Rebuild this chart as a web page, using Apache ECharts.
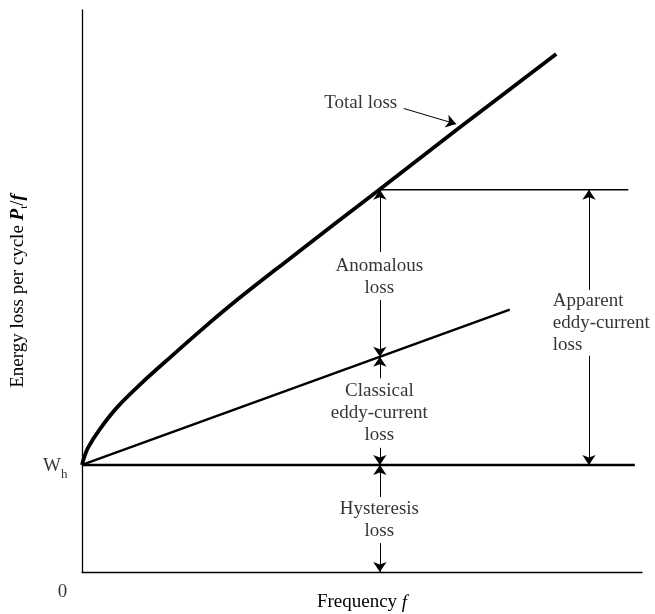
<!DOCTYPE html>
<html><head><meta charset="utf-8">
<script src="https://cdn.jsdelivr.net/npm/echarts@6/dist/echarts.min.js"></script>
<style>html,body{margin:0;padding:0;background:#fff}#c{width:655px;height:614px}</style>
</head><body><div id="c"></div>
<script>
// ---- data (schematic values) ----
const Wh = 2;
const totalX = [0, 0.03, 0.1, 0.3, 0.6, 1.0, 1.5, 2.0, 2.6, 3.4, 4.2, 5.0, 6.3, 7.96];
const totalY = [2, 2.12, 2.32, 2.67, 3.09, 3.53, 4.03, 4.52, 5.08, 5.78, 6.47, 7.15, 8.27, 9.68];
const classicalX = [0, 7.18];
const classicalY = [2, 4.9];
const hystX = [0, 9.28];
const hystY = [Wh, Wh];
const refX = [5, 9.17];
const refY = [7.14, 7.14];
// arrows: [xFrom, yFrom, xTo, yTo]  (arrow head at "to")
const arrowSegs = [
  [5, 5.98, 5, 7.14], [5, 5.08, 5, 4.02],
  [5, 3.62, 5, 4.02], [5, 2.32, 5, 2],
  [5, 1.40, 5, 2], [5, 0.54, 5, 0],
  [8.51, 5.27, 8.51, 7.14], [8.51, 4.04, 8.51, 2],
  [5.40, 8.66, 6.28, 8.37]
];
const labelTexts = ['Total loss', 'Anomalous\nloss', 'Classical\neddy-current\nloss', 'Hysteresis\nloss', 'Apparent\neddy-current\nloss', 'W{sub|h}', '0'];
const labelX = [5.30, 5, 5, 5, 7.91, -0.235, -0.32];
const labelY = [8.76, 5.51, 2.97, 0.97, 4.65, 1.97, -0.39];
const labelAlign = ['right', 'center', 'center', 'center', 'left', 'right', 'center'];

const FONT = 'Liberation Serif';
const INK = '#000';
const chart = echarts.init(document.getElementById('c'), null, {renderer: 'canvas'});
const zip = (a, b) => a.map((v, i) => [v, b[i]]);

chart.setOption({
  animation: false,
  backgroundColor: '#fff',
  textStyle: {fontFamily: FONT, color: INK},
  grid: {left: 82, top: 10, width: 560, height: 562, containLabel: false, outerBoundsMode: 'none'},
  xAxis: {
    type: 'value', min: 0, max: 9.4,
    axisLine: {show: true, onZero: false, lineStyle: {color: INK, width: 1.3}},
    axisTick: {show: false}, axisLabel: {show: false}, splitLine: {show: false},
    name: 'Frequency {i|f}', nameLocation: 'middle', nameGap: 21,
    nameTextStyle: {fontFamily: FONT, fontSize: 19, color: INK,
      rich: {i: {fontFamily: FONT, fontSize: 19, fontStyle: 'italic', color: INK}}}
  },
  yAxis: {
    type: 'value', min: 0, max: 10.5,
    axisLine: {show: true, onZero: false, lineStyle: {color: INK, width: 1.3}},
    axisTick: {show: false}, axisLabel: {show: false}, splitLine: {show: false},
    name: 'Energy loss per cycle {i|P}{sub|t}{n|/}{i|f}', nameLocation: 'middle', nameRotate: 90, nameGap: 52,
    nameTextStyle: {fontFamily: FONT, fontSize: 19, color: INK,
      rich: {
        i: {fontFamily: FONT, fontSize: 19, fontStyle: 'italic', fontWeight: 'bold', color: INK},
        n: {fontFamily: FONT, fontSize: 19, color: INK},
        sub: {fontFamily: FONT, fontSize: 11, color: INK, verticalAlign: 'bottom', lineHeight: 24}
      }}
  },
  series: [
    {type: 'line', data: zip(totalX, totalY), smooth: 0.3, symbol: 'none',
      lineStyle: {color: INK, width: 3.8}, silent: true},
    {type: 'line', data: zip(classicalX, classicalY), symbol: 'none',
      lineStyle: {color: INK, width: 2.4}, silent: true},
    {type: 'line', data: zip(hystX, hystY), symbol: 'none',
      lineStyle: {color: INK, width: 2.4}, silent: true,
      markLine: {
        silent: true, symbol: ['none', 'arrow'], symbolSize: 10,
        label: {show: false},
        lineStyle: {color: INK, width: 1, type: 'solid'},
        data: arrowSegs.map(s => [{coord: [s[0], s[1]]}, {coord: [s[2], s[3]]}])
      }},
    {type: 'line', data: zip(refX, refY), symbol: 'none',
      lineStyle: {color: INK, width: 1.5}, silent: true},
    {type: 'scatter', symbolSize: 1, itemStyle: {color: 'rgba(0,0,0,0)'}, clip: false, silent: true,
      data: labelTexts.map((t, i) => ({
        value: [labelX[i], labelY[i]],
        label: {
          show: true, formatter: t, position: [0, 0], align: labelAlign[i], verticalAlign: 'middle',
          fontFamily: FONT, fontSize: 19, lineHeight: 22, color: INK,
          rich: {sub: {fontFamily: FONT, fontSize: 13, color: INK, verticalAlign: 'bottom', lineHeight: 30}}
        }
      }))}
  ]
});
</script>
</body></html>
